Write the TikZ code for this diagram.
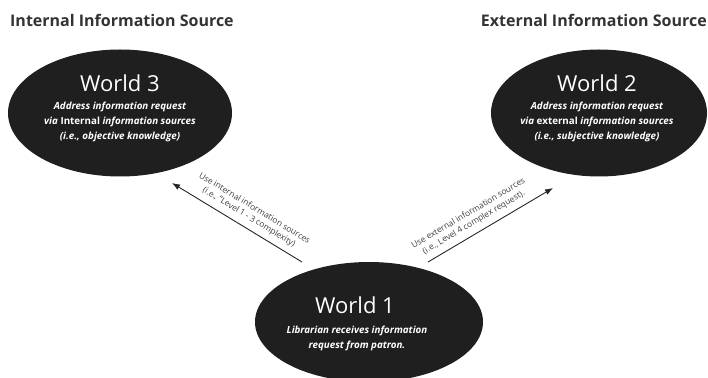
\documentclass[tikz,border=0pt]{standalone}
\usepackage{fontspec}
\setmainfont{Open Sans}
\usetikzlibrary{shapes.geometric,arrows.meta}

\begin{document}
\begin{tikzpicture}[x=1pt,y=1pt,
  world/.style={ellipse, fill=black!88, draw=none, inner sep=0pt},
  worldtitle/.style={text=white, font=\fontsize{22}{26}\selectfont},
  worlddesc/.style={text=white, align=center, font=\fontsize{9.8}{15}\selectfont\bfseries\itshape},
  header/.style={text=black!80, font=\fontsize{16}{18}\selectfont\bfseries},
  flow/.style={-{Latex[length=8pt,width=6pt]}, line width=0.9pt, draw=black!85},
  flowlabel/.style={text=black!75, align=center, font=\fontsize{8.4}{10.5}\selectfont}]
% fix the page size
\useasboundingbox (0,0) rectangle (708,377);

% headers
\node[header, anchor=base west, inner sep=0pt] (inthead) at (10,350) {Internal Information Source};
\node[header, anchor=base east, inner sep=0pt] (exthead) at (707,350) {External Information Source};

% the three worlds
\node[world, minimum width=224pt, minimum height=127pt] (w3) at (120,264) {};
\node[world, minimum width=216pt, minimum height=127pt] (w2) at (599,264) {};
\node[world, minimum width=228pt, minimum height=120pt] (w1) at (369,55) {};

% world texts
\node[worldtitle] (w3title) at (120,294) {World 3};
\node[worlddesc] (w3desc) at (120,255) {Address information request\\via {\upshape Internal} information sources\\(i.e., objective knowledge)};
\node[worldtitle] (w2title) at (597,294) {World 2};
\node[worlddesc] (w2desc) at (597,255) {Address information request\\via {\upshape external} information sources\\(i.e., subjective knowledge)};
\node[worldtitle] (w1title) at (355,72) {World 1};
\node[worlddesc] (w1desc) at (357,39) {Librarian receives information\\request from patron.};

% arrow ends
\coordinate (in3) at (172,194);
\coordinate (out3) at (302,115);
\coordinate (out2) at (428,115);
\coordinate (in2) at (553,189);

% arrows out of world 1
\draw[flow] (out3) -- (in3) node[flowlabel, pos=0.45, above=2.5pt, sloped] {Use internal information sources\\(i.e., ``Level 1 - 3 complexity)};
\draw[flow] (out2) -- (in2) node[flowlabel, pos=0.41, above=2.5pt, sloped] {Use external information sources\\(i.e., Level 4 complex request).};

\end{tikzpicture}
\end{document}
